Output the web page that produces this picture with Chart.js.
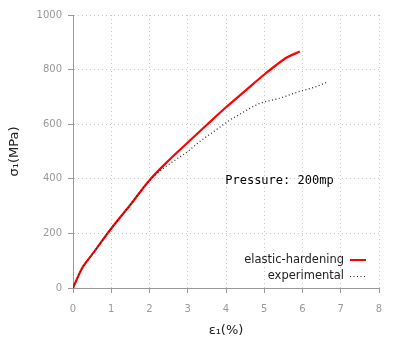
<!DOCTYPE html>
<html>
<head>
<meta charset="utf-8">
<script src="https://cdn.jsdelivr.net/npm/chart.js@4.4.1/dist/chart.umd.min.js"></script>
<style>
html,body{margin:0;padding:0;background:#fff;}
#wrap{width:400px;height:356px;position:relative;}
</style>
</head>
<body>
<div id="wrap"><canvas id="c" width="400" height="356"></canvas></div>
<script>
// Data
const hardStrain = [0, 0.1, 0.2, 0.27, 0.5, 1.0, 1.5, 2.0, 2.5, 3.0, 3.5, 4.0, 4.5, 5.0, 5.3, 5.6, 5.93];
const hardStress = [0, 32, 62, 80, 123, 218, 305, 395, 467, 533, 598, 662, 722, 782, 815, 845, 866];
const expStrain = [0, 0.1, 0.2, 0.27, 0.5, 1.0, 1.5, 1.9, 2.2, 2.6, 3.0, 3.3, 3.7, 4.1, 4.4, 4.9, 5.4, 5.9, 6.3, 6.63];
const expStress = [0, 32, 62, 80, 123, 218, 305, 378, 420, 462, 500, 535, 575, 615, 640, 677, 695, 719, 735, 753];
const xTicks = [0, 1, 2, 3, 4, 5, 6, 7, 8];
const yTicks = [0, 200, 400, 600, 800, 1000];
const seriesNames = ['elastic-hardening', 'experimental'];
const annotationText = 'Pressure: 200mp';

const toPts = (xs, ys) => xs.map((x, i) => ({x: x, y: ys[i]}));

const legendPlugin = {
  id: 'gpLegend',
  afterDatasetsDraw(chart) {
    const ctx = chart.ctx;
    ctx.save();
    // annotation
    ctx.font = '12px "DejaVu Sans Mono"';
    ctx.fillStyle = '#000';
    ctx.textAlign = 'left';
    ctx.textBaseline = 'middle';
    const xs = chart.scales.x, ys = chart.scales.y;
    ctx.fillText(annotationText, xs.getPixelForValue(3.98), ys.getPixelForValue(394));
    // legend
    ctx.font = '11.5px "DejaVu Sans"';
    ctx.fillStyle = '#222';
    ctx.textAlign = 'right';
    const rx = 344, y1 = 260, y2 = 276;
    ctx.fillText(seriesNames[0], rx, y1);
    ctx.fillText(seriesNames[1], rx, y2);
    ctx.strokeStyle = '#ff0000';
    ctx.lineWidth = 2;
    ctx.beginPath(); ctx.moveTo(350, y1); ctx.lineTo(366, y1); ctx.stroke();
    ctx.strokeStyle = '#222';
    ctx.lineWidth = 1;
    ctx.setLineDash([1, 2.5]);
    ctx.beginPath(); ctx.moveTo(350, y2 + 0.5); ctx.lineTo(366, y2 + 0.5); ctx.stroke();
    ctx.restore();
  }
};

new Chart(document.getElementById('c'), {
  type: 'scatter',
  data: {
    datasets: [
      {
        label: seriesNames[1],
        data: toPts(expStrain, expStress),
        showLine: true,
        borderColor: '#222',
        borderWidth: 1.2,
        borderDash: [1, 2.5],
        pointRadius: 0,
        cubicInterpolationMode: 'monotone'
      },
      {
        label: seriesNames[0],
        data: toPts(hardStrain, hardStress),
        showLine: true,
        borderColor: '#ff0000',
        borderWidth: 2.2,
        pointRadius: 0,
        cubicInterpolationMode: 'monotone'
      }
    ]
  },
  options: {
    responsive: false,
    animation: false,
    layout: {padding: {top: 15, right: 21, left: 0, bottom: 0}},
    plugins: {legend: {display: false}, tooltip: {enabled: false}},
    scales: {
      x: {
        type: 'linear',
        min: 0, max: 8,
        afterBuildTicks: (s) => { s.ticks = xTicks.map(v => ({value: v})); },
        afterFit: (s) => { s.height = 68; },
        ticks: {color: '#999', font: {family: 'DejaVu Sans', size: 10}, padding: 10, maxRotation: 0, callback: (v) => String(v)},
        grid: {color: '#c8c8c8', lineWidth: 1, tickLength: 5, tickColor: '#999', tickBorderDash: [], tickWidth: 1},
        border: {display: true, color: '#999', width: 1, dash: [1, 3]},
        title: {display: true, text: 'ε₁(%)', color: '#222', font: {family: 'DejaVu Sans', size: 13}, padding: {top: 0, bottom: 18}}
      },
      y: {
        type: 'linear',
        min: 0, max: 1000,
        afterBuildTicks: (s) => { s.ticks = yTicks.map(v => ({value: v})); },
        afterFit: (s) => { s.width = 73; },
        ticks: {color: '#999', font: {family: 'DejaVu Sans', size: 10}, padding: 6, callback: (v) => String(v)},
        grid: {color: '#c8c8c8', lineWidth: 1, tickLength: 5, tickColor: '#999', tickBorderDash: [], tickWidth: 1},
        border: {display: true, color: '#999', width: 1, dash: [1, 3]},
        title: {display: true, text: 'σ₁(MPa)', color: '#222', font: {family: 'DejaVu Sans', size: 13}, padding: {top: 7, bottom: 0}}
      }
    }
  },
  plugins: [legendPlugin]
});
</script>
</body>
</html>
